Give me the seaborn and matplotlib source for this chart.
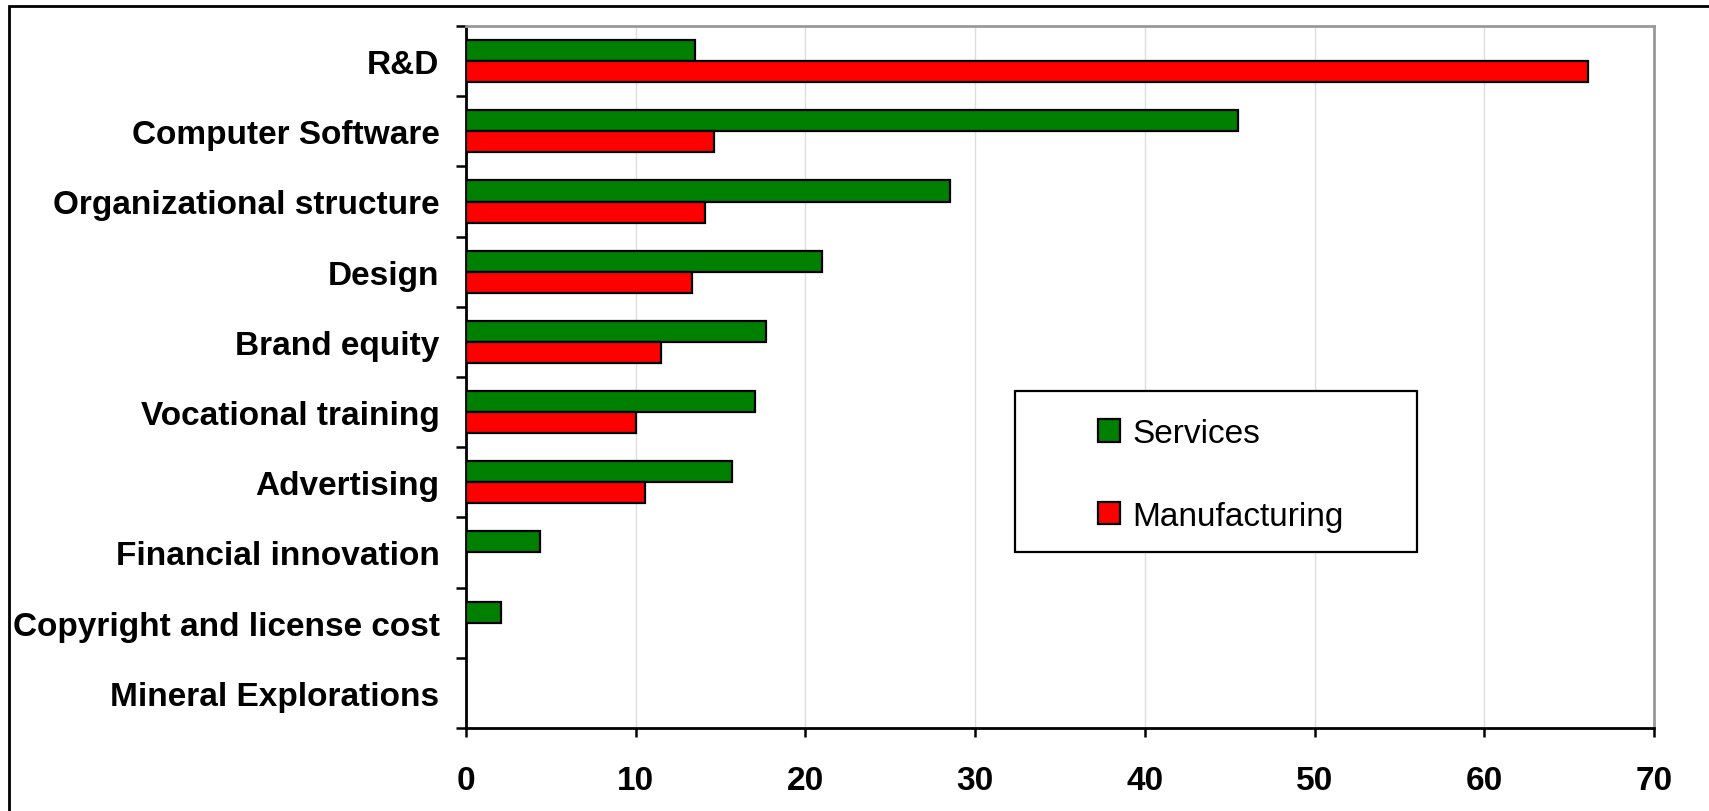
import numpy as np
import pandas as pd
import matplotlib
matplotlib.use('Agg')
import matplotlib.pyplot as plt
import matplotlib.patches as mpatches
import seaborn as sns

categories = ['R&D', 'Computer Software', 'Organizational structure', 'Design',
              'Brand equity', 'Vocational training', 'Advertising',
              'Financial innovation', 'Copyright and license cost', 'Mineral Explorations']
services = [13.5, 45.5, 28.5, 21.0, 17.7, 17.05, 15.7, 4.35, 2.05, 0.0]
manufacturing = [66.1, 14.6, 14.1, 13.3, 11.5, 10.0, 10.55, 0.0, 0.0, 0.0]
sectors = ['Services', 'Manufacturing']
colors = ['#008000', '#FF0000']
x_ticks = [0, 10, 20, 30, 40, 50, 60, 70]

df = pd.DataFrame({
    'Category': categories * 2,
    'Value': services + manufacturing,
    'Sector': ['Services'] * len(categories) + ['Manufacturing'] * len(categories),
})

sns.set_style('white')
plt.rcParams['font.family'] = ['Liberation Sans', 'DejaVu Sans']
plt.rcParams['text.color'] = 'black'
plt.rcParams['xtick.color'] = 'black'
plt.rcParams['ytick.color'] = 'black'

W, H = 1709, 812
fig = plt.figure(figsize=(W / 100, H / 100), dpi=100)
ax = fig.add_axes([466 / W, 1 - 729 / H, (1654 - 466) / W, (729 - 27) / H])

sns.barplot(data=df, y='Category', x='Value', hue='Sector', order=categories,
            hue_order=sectors, palette=colors, saturation=1, orient='h', width=0.6,
            edgecolor='black', linewidth=1.6, errorbar=None, ax=ax, zorder=3)

ax.set_xlim(0, 70)
ax.set_ylim(len(categories) - 0.5, -0.5)
ax.set_xticks(x_ticks)
ax.set_xticklabels([str(t) for t in x_ticks], fontsize=24, fontweight='bold')
ax.set_yticks(range(len(categories)))
ax.set_yticklabels(categories, fontsize=24, fontweight='bold')
ax.set_yticks(np.arange(-0.5, len(categories), 1), minor=True)
ax.tick_params(axis='y', which='major', left=True, length=0, pad=19)
ax.tick_params(axis='y', which='minor', left=True, length=7, width=1.8, color='black', direction='out')
ax.tick_params(axis='x', which='major', bottom=True, length=6.5, width=1.8, color='black',
               direction='out', pad=20)
ax.set_xlabel('')
ax.set_ylabel('')

ax.grid(axis='x', color='#dddddd', linewidth=1.0, zorder=0)
ax.grid(axis='y', visible=False)
ax.set_axisbelow(True)

for side in ['left', 'bottom']:
    ax.spines[side].set_color('black')
    ax.spines[side].set_linewidth(2)
for side in ['top', 'right']:
    ax.spines[side].set_color('#999999')
    ax.spines[side].set_linewidth(2)

# legend box drawn as a patch, legend itself without frame
box = mpatches.Rectangle((1015 / W, 1 - 553 / H), (1417 - 1015) / W, (553 - 392) / H,
                         transform=fig.transFigure, facecolor='white',
                         edgecolor='black', linewidth=1.6, zorder=6, clip_on=False)
ax.add_patch(box)

handles, labels = ax.get_legend_handles_labels()
leg = ax.legend(handles, labels, loc='upper left', frameon=False, fontsize=24,
                bbox_to_anchor=(1098 / W, 1 - 419 / H), bbox_transform=fig.transFigure,
                borderpad=0, borderaxespad=0, handlelength=0.67, handleheight=0.67,
                handletextpad=0.35, labelspacing=1.55)
leg.set_zorder(10)
for h in leg.legend_handles:
    h.set_edgecolor('black')
    h.set_linewidth(1.6)

# outer frame
fig.patches.append(mpatches.Rectangle((9 / W, -0.1), 1.2, 1.1 - 7 / H,
                                      transform=fig.transFigure, fill=False,
                                      edgecolor='black', linewidth=2))

fig.savefig('out.png', dpi=100)
